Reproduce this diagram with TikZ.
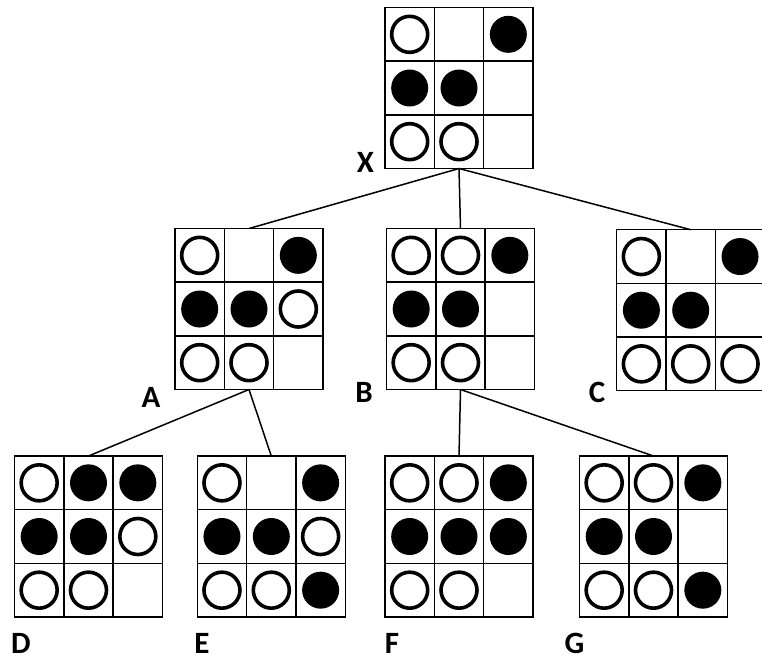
\documentclass[tikz,border=0pt]{standalone}
\usepackage{fontspec}
\setmainfont{Carlito}
\tikzset{
  boardbox/.style={draw, line width=1.4pt, minimum width=148pt, minimum height=161pt, inner sep=0pt, outer sep=0pt, anchor=north west},
  gridline/.style={line width=1.4pt},
  wstone/.style={draw, line width=3.6pt, fill=white},
  bstone/.style={fill=black},
  lbl/.style={font=\bfseries\fontsize{31}{31}\selectfont, inner sep=0pt},
  edgeline/.style={line width=1.5pt}
}
\newcommand{\drawboard}[5]{%
  \node[boardbox] (#1) at (#2,#3) {};
  \draw[gridline] (#2+49.33,#3) -- (#2+49.33,#3+161)
                  (#2+98.67,#3) -- (#2+98.67,#3+161)
                  (#2,#3+53.67) -- (#2+148,#3+53.67)
                  (#2,#3+107.33) -- (#2+148,#3+107.33);
  \foreach \r/\c in {#4} \draw[wstone] (#2+24.67+\c*49.33, #3+26.83+\r*53.67) circle[radius=18pt];
  \foreach \r/\c in {#5} \fill[bstone] (#2+24.67+\c*49.33, #3+26.83+\r*53.67) circle[radius=18.5pt];
}
\begin{document}
\begin{tikzpicture}[x=1pt,y=-1pt]
  \useasboundingbox (0,0) rectangle (762,662);
  \clip (0,0) rectangle (762,662);
  % boards: name, left, top, white stones, black stones
  \drawboard{X}{385}{7.5}{0/0,2/0,2/1}{0/2,1/0,1/1}
  \drawboard{A}{175}{228.5}{0/0,1/2,2/0,2/1}{0/2,1/0,1/1}
  \drawboard{B}{386.5}{228.5}{0/0,0/1,2/0,2/1}{0/2,1/0,1/1}
  \drawboard{C}{616.7}{229.7}{0/0,2/0,2/1,2/2}{0/2,1/0,1/1}
  \drawboard{D}{14.5}{456}{0/0,1/2,2/0,2/1}{0/1,0/2,1/0,1/1}
  \drawboard{E}{197.3}{456}{0/0,1/2,2/0,2/1}{0/2,1/0,1/1,2/2}
  \drawboard{F}{385}{456}{0/0,0/1,2/0,2/1}{0/2,1/0,1/1,1/2}
  \drawboard{G}{579.5}{456}{0/0,0/1,2/0,2/1}{0/2,1/0,1/1,2/2}
  % connectors
  \draw[edgeline] (X.south) -- (A.north);
  \draw[edgeline] (X.south) -- (B.north);
  \draw[edgeline] (X.south) -- (C.north);
  \draw[edgeline] (A.south) -- (D.north);
  \draw[edgeline] (A.south) -- (E.north);
  \draw[edgeline] (B.south) -- (F.north);
  \draw[edgeline] (B.south) -- (G.north);
  % labels
  \node[lbl] (lX) at (365.5,162) {X};
  \node[lbl] (lA) at (151,397) {A};
  \node[lbl] (lB) at (364,392) {B};
  \node[lbl] (lC) at (597,392) {C};
  \node[lbl] (lD) at (21,643) {D};
  \node[lbl] (lE) at (202,643) {E};
  \node[lbl] (lF) at (392,643) {F};
  \node[lbl] (lG) at (574.5,643) {G};
\end{tikzpicture}
\end{document}
